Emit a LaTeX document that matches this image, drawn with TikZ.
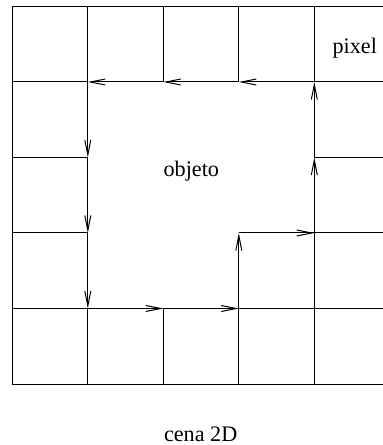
\documentclass[tikz,border=0pt]{standalone}
\usepackage{fontspec}
\setmainfont{Liberation Serif}
\usetikzlibrary{arrows.meta}

\begin{document}
\begin{tikzpicture}[x=37.75pt, y=-37.75pt,
    gridline/.style={line width=0.5pt},
    contour/.style={line width=0.5pt, -{Straight Barb[length=7.5pt, width=3pt]}},
    label/.style={font=\fontsize{11.1}{13}\selectfont, anchor=base, inner sep=0pt}]

    \useasboundingbox (-0.163,-0.086) rectangle (4.907,5.808);

    % GRID POINTS
    \foreach \i in {0,...,4}
        \foreach \j in {0,...,5}
            \coordinate (g\i\j) at (\i,\j);
    \foreach \j in {0,...,5}
        \coordinate (r\j) at (4.907,\j);

    % HORIZONTAL GRID LINES
    \draw[gridline] (g00) -- (r0);
    \draw[gridline] (g01) -- (g11);
    \draw[gridline] (g41) -- (r1);
    \draw[gridline] (g02) -- (g12);
    \draw[gridline] (g42) -- (r2);
    \draw[gridline] (g03) -- (g13);
    \draw[gridline] (g33) -- (r3);
    \draw[gridline] (g04) -- (g14);
    \draw[gridline] (g34) -- (r4);
    \draw[gridline] (g05) -- (r5);

    % VERTICAL GRID LINES
    \draw[gridline] (g00) -- (g05);
    \draw[gridline] (g10) -- (g11);
    \draw[gridline] (g14) -- (g15);
    \draw[gridline] (g20) -- (g21);
    \draw[gridline] (g24) -- (g25);
    \draw[gridline] (g30) -- (g31);
    \draw[gridline] (g34) -- (g35);
    \draw[gridline] (g40) -- (g41);
    \draw[gridline] (g43) -- (g45);

    % OBJECT CONTOUR
    \foreach \a/\b in {g41/g31, g31/g21, g21/g11,
                       g11/g12, g12/g13, g13/g14,
                       g14/g24, g24/g34, g34/g33,
                       g33/g43, g43/g42, g42/g41}
        \draw[contour] (\a) -- (\b);

    % LABELS
    \node[label] (pixel) at (4.536,0.629) {pixel};
    \node[label] (objeto) at (2.371,2.252) {objeto};
    \node[label] (cena) at (2.495,5.764) {cena 2D};

\end{tikzpicture}
\end{document}
